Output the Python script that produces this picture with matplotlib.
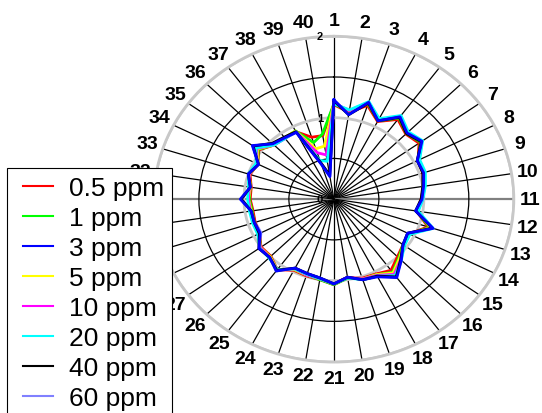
import numpy as np
import matplotlib
matplotlib.use("Agg")
import matplotlib.pyplot as plt
from matplotlib.lines import Line2D
from matplotlib.legend_handler import HandlerLine2D

plt.rcParams['font.family'] = ['Liberation Sans', 'DejaVu Sans']

categories = [str(i) for i in range(1, 41)]
series_names = ["0.5 ppm", "1 ppm", "3 ppm", "5 ppm", "10 ppm", "20 ppm", "40 ppm", "60 ppm"]
series_colors = ["#ff0000", "#00ff00", "#0000ff", "#ffff00", "#ff00ff", "#00ffff", "#000000", "#8080ff"]
series_layers = [3, 3.1, 3.9, 3.2, 3.3, 3.4, 3.8, 2.9]

s_05 = [1.16, 1.08, 1.21, 1.07, 1.21, 1.13, 1.17, 1.05, 1.04, 1.01, 0.97, 0.93, 1.10, 0.94, 0.95, 1.00, 1.08, 1.03, 1.02, 0.98,
        1.05, 1.00, 0.99, 0.98, 1.07, 0.99, 1.00, 0.93, 0.92, 0.91, 0.93, 0.93, 0.98, 0.95, 1.03, 0.94, 0.93, 0.93, 0.80, 0.79]
s_1 = [1.17, 1.09, 1.23, 1.08, 1.23, 1.14, 1.19, 1.05, 1.05, 1.01, 0.98, 0.93, 1.12, 0.94, 0.95, 1.02, 1.11, 1.04, 1.03, 0.98,
       1.05, 1.00, 0.98, 0.97, 1.07, 1.00, 1.01, 0.93, 0.93, 0.92, 0.94, 0.94, 0.99, 0.95, 1.04, 0.94, 0.93, 0.94, 0.73, 0.81]
s_3 = [1.22, 1.05, 1.25, 1.08, 1.25, 1.15, 1.21, 1.04, 1.05, 1.01, 0.98, 0.92, 1.16, 0.92, 0.95, 1.06, 1.19, 1.07, 1.04, 0.97,
       1.04, 0.98, 0.96, 0.95, 1.09, 1.01, 1.03, 0.92, 0.93, 0.93, 1.04, 0.94, 1.00, 0.94, 1.12, 0.96, 0.93, 0.92, 0.45, 0.28]
s_5 = [1.18, 1.09, 1.24, 1.09, 1.24, 1.15, 1.20, 1.06, 1.05, 1.02, 0.98, 0.94, 1.13, 0.94, 0.96, 1.03, 1.12, 1.04, 1.03, 0.97,
       1.04, 0.99, 0.98, 0.97, 1.07, 1.00, 1.01, 0.94, 0.93, 0.93, 0.95, 0.94, 0.99, 0.95, 1.05, 0.94, 0.93, 0.94, 0.65, 0.66]
s_10 = [1.18, 1.10, 1.25, 1.10, 1.25, 1.16, 1.21, 1.06, 1.06, 1.02, 0.99, 0.94, 1.15, 0.94, 0.96, 1.05, 1.14, 1.05, 1.03, 0.97,
        1.04, 0.99, 0.98, 0.96, 1.07, 1.01, 1.01, 0.94, 0.94, 0.94, 0.95, 0.95, 0.99, 0.96, 1.06, 0.94, 0.92, 0.93, 0.60, 0.55]
s_20 = [1.17, 1.11, 1.26, 1.11, 1.27, 1.17, 1.22, 1.07, 1.07, 1.03, 0.99, 0.95, 1.16, 0.95, 0.97, 1.06, 1.16, 1.06, 1.04, 0.98,
        1.04, 0.99, 0.97, 0.96, 1.07, 1.02, 1.02, 0.95, 0.95, 0.95, 0.96, 0.96, 1.00, 0.97, 1.07, 0.94, 0.92, 0.93, 0.50, 0.47]
s_40 = [1.21, 1.05, 1.24, 1.08, 1.24, 1.14, 1.20, 1.04, 1.04, 1.00, 0.97, 0.92, 1.15, 0.92, 0.95, 1.05, 1.18, 1.06, 1.04, 0.97,
        1.04, 0.98, 0.96, 0.95, 1.08, 1.01, 1.03, 0.93, 0.93, 0.93, 1.03, 0.94, 1.00, 0.94, 1.11, 0.97, 0.94, 0.93, 0.47, 0.30]
s_60 = [1.21, 1.06, 1.24, 1.08, 1.24, 1.14, 1.20, 1.04, 1.05, 1.01, 0.98, 0.92, 1.15, 0.92, 0.95, 1.06, 1.18, 1.06, 1.04, 0.97,
        1.04, 0.98, 0.96, 0.95, 1.09, 1.00, 1.02, 0.91, 0.92, 0.92, 1.03, 0.93, 0.99, 0.94, 1.11, 0.95, 0.93, 0.92, 0.46, 0.29]

radial_ticks = [0, 0.5, 1, 1.5, 2]
radial_labels = ["0", "1", "2"]
radial_label_values = [0, 1, 2]

series = [s_05, s_1, s_3, s_5, s_10, s_20, s_40, s_60]

fig = plt.figure(figsize=(5.42, 4.14), dpi=100)
ax = fig.add_axes([0.284, 0.123, 0.664, 0.787], projection='polar')
ax.set_aspect('auto')
ax.set_theta_zero_location('N')
ax.set_theta_direction(-1)

n = len(categories)
theta = np.arange(n) * 2 * np.pi / n
theta_closed = np.append(theta, theta[0])

for vals, name, col, z in zip(series, series_names, series_colors, series_layers):
    v = np.append(vals, vals[0])
    ax.plot(theta_closed, v, color=col, lw=2, label=name, zorder=z)

ax.set_ylim(0, 2)
ax.set_thetagrids(np.degrees(theta), labels=categories, fontsize=14, fontweight='bold')
ax.tick_params(axis='x', pad=1)
ax.set_rgrids(radial_ticks[1:], labels=[""] * 4)
ax.set_yticklabels([])

for i, gl in enumerate(ax.xaxis.get_gridlines()):
    gl.set_color('black')
    gl.set_linewidth(0.9)
    gl.set_linestyle('-')
    if i in (10, 30):
        gl.set_color('#808080')
        gl.set_linewidth(1.6)
for r, gl in zip(radial_ticks[1:], ax.yaxis.get_gridlines()):
    gl.set_linestyle('-')
    if r == 1 or r == 2:
        gl.set_color('#c8c8c8')
        gl.set_linewidth(2)
    else:
        gl.set_color('black')
        gl.set_linewidth(0.9)
ax.spines['polar'].set_color('#c8c8c8')
ax.spines['polar'].set_linewidth(2)

for val, lab in zip(radial_label_values, radial_labels):
    ax.annotate(lab, xy=(0, val), xytext=(-14, 0), textcoords='offset pixels',
                ha='center', va='center', fontsize=8, fontweight='bold', zorder=5)

handles, labels = ax.get_legend_handles_labels()
leg = fig.legend(handles, labels, loc='upper left', bbox_to_anchor=(7 / 542, 1 - 169 / 414), borderaxespad=0,
                 fontsize=19, frameon=True, fancybox=False, edgecolor='black', framealpha=1,
                 borderpad=0.3, labelspacing=0.23, handlelength=1.45, handletextpad=0.6,
                 handler_map={Line2D: HandlerLine2D(xpad=0.32)})
leg.get_frame().set_linewidth(0.8)
leg.set_zorder(10)
for ln in leg.get_lines():
    ln.set_linewidth(1.5)

fig.savefig("out.png", dpi=100)
